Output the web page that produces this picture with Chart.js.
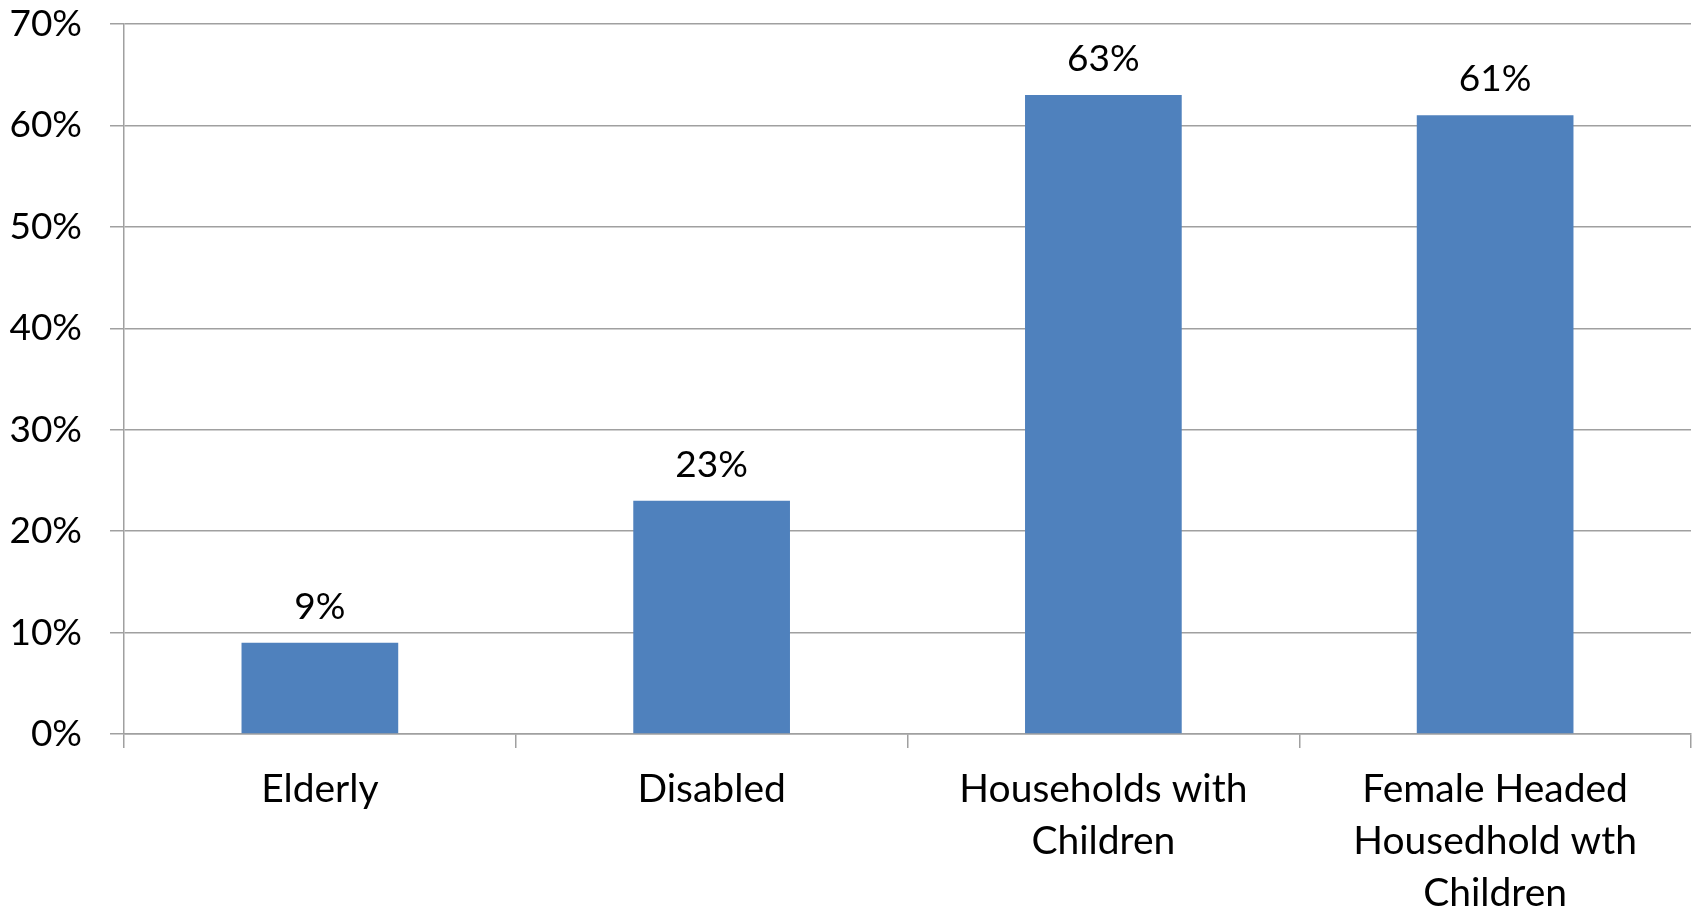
<!DOCTYPE html>
<html>
<head>
<meta charset="utf-8">
<script src="https://cdn.jsdelivr.net/npm/chart.js@4/dist/chart.umd.min.js"></script>
<style>
    html, body { margin: 0; padding: 0; background: #fff; }
    #wrap { width: 1700px; height: 912px; }
</style>
</head>
<body>
<div id="wrap"><canvas id="chart"></canvas></div>
<script>
const categories = [
    'Elderly',
    'Disabled',
    ['Households with', 'Children'],
    ['Female Headed', 'Housedhold wth', 'Children']
];
const shares = [9, 23, 63, 61];
const yTicks = [0, 10, 20, 30, 40, 50, 60, 70];

const FONT = 'Lato, "Open Sans", sans-serif';
const GRID = '#a0a0a0';

// value labels over each bar
const barLabels = {
    id: 'barLabels',
    afterDatasetsDraw(chart) {
        const ctx = chart.ctx;
        const meta = chart.getDatasetMeta(0);
        ctx.save();
        ctx.font = '37px ' + FONT;
        ctx.fillStyle = '#000';
        ctx.textAlign = 'center';
        ctx.textBaseline = 'middle';
        meta.data.forEach((bar, i) => {
            ctx.fillText(shares[i] + '%', bar.x, bar.y - 36);
        });
        ctx.restore();
    }
};

new Chart(document.getElementById('chart').getContext('2d'), {
    type: 'bar',
    data: {
        labels: categories,
        datasets: [{
            data: shares,
            backgroundColor: '#4f81bd',
            borderWidth: 0,
            barPercentage: 0.4,
            categoryPercentage: 1
        }]
    },
    options: {
        responsive: true,
        maintainAspectRatio: false,
        animation: false,
        layout: { padding: { top: 0, right: 9, bottom: 0, left: 0 } },
        plugins: { legend: { display: false }, tooltip: { enabled: false } },
        scales: {
            x: {
                grid: { drawOnChartArea: false, offset: true, color: GRID, lineWidth: 1.5, tickLength: 14 },
                border: { color: GRID, width: 1.5 },
                ticks: {
                    color: '#000',
                    padding: 15,
                    maxRotation: 0,
                    autoSkip: false,
                    font: { family: FONT, size: 39, lineHeight: '52px' }
                },
                afterFit(axis) { axis.height = 178; }
            },
            y: {
                min: 0,
                max: 70,
                afterBuildTicks(axis) { axis.ticks = yTicks.map(v => ({ value: v })); },
                grid: { color: GRID, lineWidth: 1.5, tickLength: 14 },
                border: { color: GRID, width: 1.5 },
                ticks: {
                    color: '#000',
                    padding: 28,
                    font: { family: FONT, size: 37 },
                    callback: v => v + '%'
                },
                afterFit(axis) {
                    axis.width = 124;
                    axis.paddingTop = 24;
                    axis.paddingBottom = 0;
                }
            }
        }
    },
    plugins: [barLabels]
});
</script>
</body>
</html>
